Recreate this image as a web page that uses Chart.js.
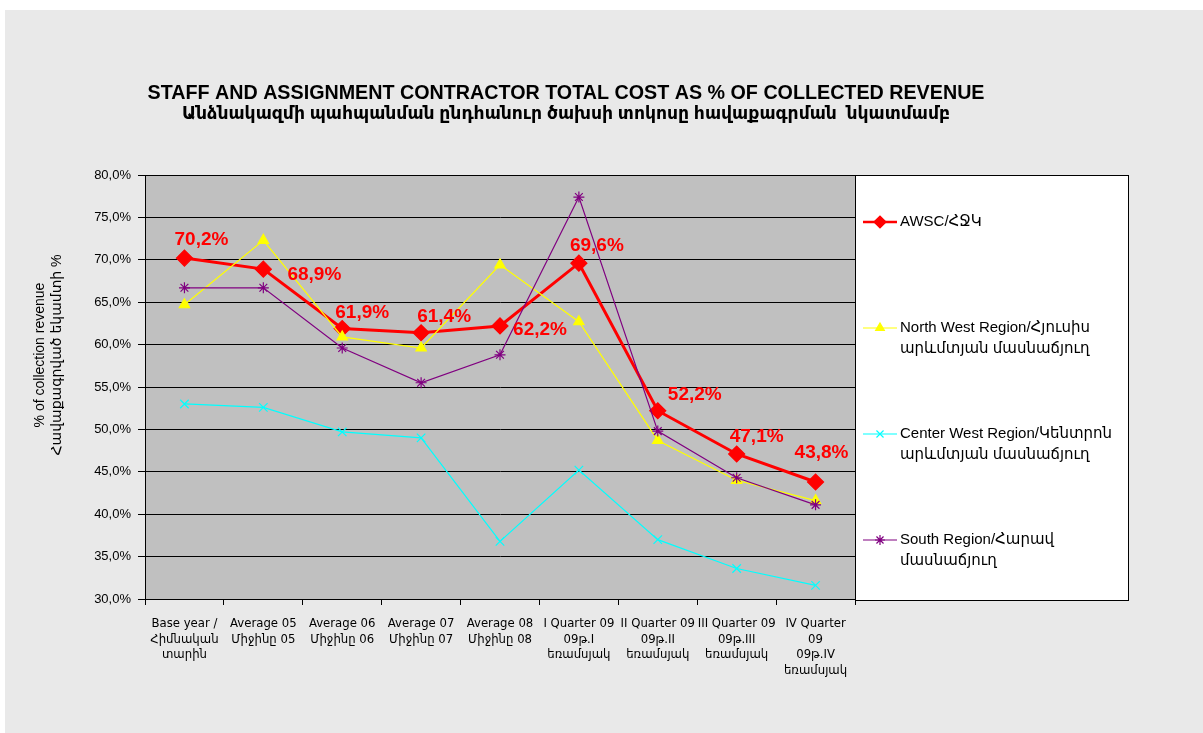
<!DOCTYPE html>
<html>
<head>
<meta charset="utf-8">
<script src="https://cdn.jsdelivr.net/npm/chart.js@4.4.1/dist/chart.umd.min.js"></script>
<style>
  html, body { margin: 0; padding: 0; background: #ffffff; width: 1203px; height: 733px; overflow: hidden; }
  #bg { position: absolute; left: 5px; top: 10px; right: 0; bottom: 0; background: #e9e9e9; }
  #wrap { position: absolute; left: 0; top: 0; width: 1203px; height: 733px; }
</style>
</head>
<body>
<div id="bg"></div>
<div id="wrap"><canvas id="c" width="1203" height="733"></canvas></div>
<script>
// ---- Data ----
const categories = [
  ['Base year /', 'Հիմնական', 'տարին'],
  ['Average 05', 'Միջինը 05'],
  ['Average 06', 'Միջինը 06'],
  ['Average 07', 'Միջինը 07'],
  ['Average 08', 'Միջինը 08'],
  ['I Quarter 09', '09թ.I', 'եռամսյակ'],
  ['II Quarter 09', '09թ.II', 'եռամսյակ'],
  ['III Quarter 09', '09թ.III', 'եռամսյակ'],
  ['IV Quarter', '09', '09թ.IV', 'եռամսյակ']
];
const awsc       = [70.2, 68.9, 61.9, 61.4, 62.2, 69.6, 52.2, 47.1, 43.8];
const northWest  = [64.7, 72.3, 60.9, 59.6, 69.4, 62.7, 48.7, 44.0, 41.6];
const centerWest = [53.0, 52.6, 49.7, 49.0, 36.8, 45.2, 37.0, 33.6, 31.6];
const south      = [66.7, 66.7, 59.6, 55.5, 58.8, 77.4, 49.8, 44.3, 41.1];
const seriesNames = [
  ['AWSC/ՀՋԿ'],
  ['North West Region/Հյուսիս', 'արևմտյան մասնաճյուղ'],
  ['Center West Region/Կենտրոն', 'արևմտյան մասնաճյուղ'],
  ['South Region/Հարավ', 'մասնաճյուղ']
];
const titleLines = [
  'STAFF AND ASSIGNMENT CONTRACTOR TOTAL COST AS % OF COLLECTED REVENUE',
  'Անձնակազմի պահպանման ընդհանուր ծախսի տոկոսը հավաքագրման  նկատմամբ'
];
const yAxisTitle = ['% of collection revenue', 'Հավաքագրված եկամտի %'];
const yMin = 30, yMax = 80, yStep = 5;

// ---- Styling ----
const SANS = '"Liberation Sans", Arial, "DejaVu Sans", sans-serif';
const NARROW = '"Liberation Sans Narrow", "DejaVu Sans Condensed", "Liberation Sans", "DejaVu Sans", sans-serif';

// label offsets relative to each AWSC point (layout only)
const labelOffsets = [[17,-18],[51,6],[20,-16],[23,-16],[40,4],[18,-17],[37,-16],[20,-17],[6,-29]];

const plotBgPlugin = {
  id: 'plotBg',
  beforeDraw(chart) {
    const {ctx, chartArea: a} = chart;
    ctx.save();
    ctx.fillStyle = '#c0c0c0';
    ctx.fillRect(a.left, a.top, a.right - a.left, a.bottom - a.top);
    ctx.restore();
  },
  afterDatasetsDraw(chart) {
    const {ctx, chartArea: a} = chart;
    ctx.save();
    ctx.strokeStyle = '#000';
    ctx.lineWidth = 1;
    ctx.strokeRect(a.left + 0.5, a.top + 0.5, a.right - a.left, a.bottom - a.top);
    ctx.restore();
  }
};

const textPlugin = {
  id: 'texts',
  afterDraw(chart) {
    const ctx = chart.ctx;
    const a = chart.chartArea;
    ctx.save();
    // Title
    ctx.fillStyle = '#000';
    ctx.textAlign = 'center';
    ctx.textBaseline = 'middle';
    ctx.font = 'bold 20px ' + SANS;
    ctx.fillText(titleLines[0], 566, 93, 837);
    ctx.font = 'bold 17.5px ' + SANS;
    ctx.fillText(titleLines[1], 566, 114, 768);
    // Y axis title (rotated)
    ctx.font = '14px ' + SANS;
    ctx.translate(48, 355);
    ctx.rotate(-Math.PI / 2);
    ctx.fillText(yAxisTitle[0], 0, -8);
    ctx.fillText(yAxisTitle[1], 0, 9);
    ctx.restore();

    // Data labels for AWSC
    const meta = chart.getDatasetMeta(0);
    ctx.save();
    ctx.font = 'bold 19px ' + SANS;
    ctx.fillStyle = '#ff0000';
    ctx.textAlign = 'center';
    ctx.textBaseline = 'middle';
    meta.data.forEach((pt, i) => {
      const v = chart.data.datasets[0].data[i];
      const o = labelOffsets[i];
      ctx.fillText(v.toFixed(1).replace('.', ',') + '%', pt.x + o[0], pt.y + o[1]);
    });
    ctx.restore();

    // Legend box
    const lx = a.right, ly = a.top, lw = 273, lh = a.bottom - a.top + 1;
    ctx.save();
    ctx.fillStyle = '#ffffff';
    ctx.fillRect(lx, ly, lw, lh);
    ctx.strokeStyle = '#000';
    ctx.lineWidth = 1;
    ctx.strokeRect(lx + 0.5, ly + 0.5, lw, lh);
    chart.data.datasets.forEach((ds, i) => {
      const cy = ly + 47 + i * 106;
      ctx.strokeStyle = ds.borderColor;
      ctx.lineWidth = Math.min(ds.borderWidth, 2.5);
      ctx.beginPath();
      ctx.moveTo(lx + 8, cy);
      ctx.lineTo(lx + 42, cy);
      ctx.stroke();
      ctx.fillStyle = ds.pointBackgroundColor;
      ctx.strokeStyle = ds.pointBorderColor;
      ctx.lineWidth = ds.pointBorderWidth || 1;
      Chart.helpers.drawPoint(ctx, {
        pointStyle: ds.pointStyle,
        radius: i === 0 ? 6 : 5,
        rotation: 0,
        borderWidth: ds.pointBorderWidth || 1
      }, lx + 25, cy);
      ctx.fillStyle = '#000';
      ctx.font = '15px ' + SANS;
      ctx.textAlign = 'left';
      ctx.textBaseline = 'middle';
      seriesNames[i].forEach((line, j) => {
        ctx.fillText(line, lx + 45, cy + j * 21);
      });
    });
    ctx.restore();
  }
};

function mkDataset(idx, data, color, width, style, radius, fill) {
  return {
    label: seriesNames[idx].join(' '),
    data: data,
    borderColor: color,
    backgroundColor: color,
    borderWidth: width,
    pointStyle: style,
    pointRadius: radius,
    pointHoverRadius: radius,
    pointBackgroundColor: fill,
    pointBorderColor: color,
    pointBorderWidth: 1.2,
    tension: 0,
    order: 4 - idx
  };
}

new Chart(document.getElementById('c'), {
  type: 'line',
  data: {
    labels: categories,
    datasets: [
      mkDataset(0, awsc, '#ff0000', 3, 'rectRot', 8, '#ff0000'),
      mkDataset(1, northWest, '#ffff00', 1.2, 'triangle', 6, '#ffff00'),
      mkDataset(2, centerWest, '#00ffff', 1.2, 'crossRot', 6, '#00ffff'),
      mkDataset(3, south, '#800080', 1.2, 'star', 5.5, '#800080')
    ]
  },
  options: {
    responsive: false,
    animation: false,
    devicePixelRatio: 1,
    layout: { padding: { left: 0, top: 175, right: 348, bottom: 0 } },
    plugins: {
      legend: { display: false },
      title: { display: false },
      tooltip: { enabled: false }
    },
    scales: {
      x: {
        offset: true,
        grid: { offset: true, drawOnChartArea: false, drawTicks: true, tickLength: 6, color: '#000' },
        border: { color: '#000' },
        ticks: {
          color: '#000',
          font: { family: NARROW, size: 13 },
          maxRotation: 0, minRotation: 0, autoSkip: false,
          padding: 11
        },
        afterFit(scale) { scale.height = 134; }
      },
      y: {
        min: yMin, max: yMax,
        grid: { color: '#000', lineWidth: 1, drawTicks: true, tickLength: 7 },
        border: { color: '#000' },
        ticks: {
          stepSize: yStep,
          color: '#000',
          font: { family: SANS, size: 13 },
          padding: 7,
          callback: v => v.toFixed(1).replace('.', ',') + '%'
        },
        afterFit(scale) { scale.width = 145; }
      }
    }
  },
  plugins: [plotBgPlugin, textPlugin]
});
</script>
</body>
</html>
